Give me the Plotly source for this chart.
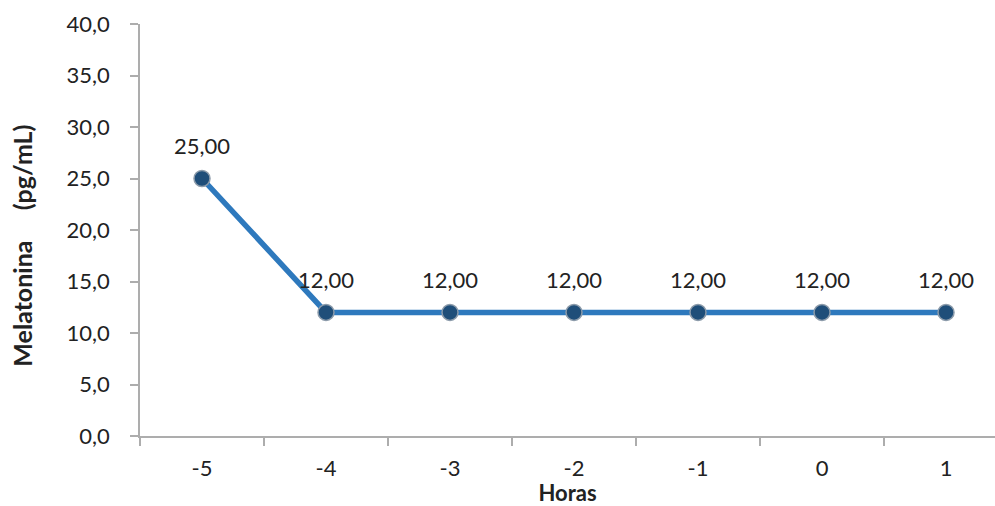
import plotly.graph_objects as go

# Melatonin concentration by hour
horas = ["-5", "-4", "-3", "-2", "-1", "0", "1"]
melatonina = [25.0, 12.0, 12.0, 12.0, 12.0, 12.0, 12.0]
y_ticks = [0, 5, 10, 15, 20, 25, 30, 35, 40]

FONT = "Lato, 'Open Sans', sans-serif"
TEXT = "#222222"
AXIS_GREY = "#ADADAD"
FS = 22

fig = go.Figure()
fig.add_trace(go.Scatter(
    x=horas,
    y=melatonina,
    mode="lines+markers",
    line=dict(color="#2E79BD", width=5.5),
    marker=dict(size=16, color="#1F4E79", line=dict(color="#8C9BAA", width=1.5)),
    hoverinfo="skip",
    cliponaxis=False,
))

# Value labels above each point (category index used for positioning)
for i, v in enumerate(melatonina):
    fig.add_annotation(
        x=i, y=v, xref="x", yref="y",
        text=f"{v:.2f}".replace(".", ","),
        showarrow=False, yshift=33,
        font=dict(family=FONT, size=FS, color=TEXT),
    )

# Y-axis title, placed as a rotated annotation
fig.add_annotation(
    x=-0.138, y=0.462, xref="paper", yref="paper",
    xanchor="center", yanchor="middle", textangle=-90,
    text="<b>Melatonina&nbsp;&nbsp;&nbsp;&nbsp;&nbsp;(pg/mL)</b>",
    showarrow=False,
    font=dict(family=FONT, size=25, color=TEXT),
)

fig.update_layout(
    width=995, height=506,
    margin=dict(l=140, r=0, t=24, b=70),
    paper_bgcolor="white", plot_bgcolor="white",
    separators=",.",
    showlegend=False,
    font=dict(family=FONT, size=FS, color=TEXT),
)

fig.update_xaxes(
    type="category",
    range=[-0.5, 6.395],
    tickson="boundaries",
    ticks="outside", ticklen=8, tickcolor=AXIS_GREY, tickwidth=1.5,
    showline=True, linecolor=AXIS_GREY, linewidth=1.5,
    showgrid=False, zeroline=False,
    ticklabelstandoff=12,
    tickfont=dict(family=FONT, size=FS, color=TEXT),
    title=dict(text="<b>Horas</b>", font=dict(family=FONT, size=22, color=TEXT), standoff=0),
)

fig.update_yaxes(
    range=[0, 40],
    tickvals=y_ticks,
    tickformat=".1f",
    ticks="outside", ticklen=8, tickcolor=AXIS_GREY, tickwidth=1.5,
    showline=True, linecolor=AXIS_GREY, linewidth=1.5,
    showgrid=False, zeroline=False,
    ticklabelstandoff=16,
    tickfont=dict(family=FONT, size=FS, color=TEXT),
)

fig.write_html("out.html")
